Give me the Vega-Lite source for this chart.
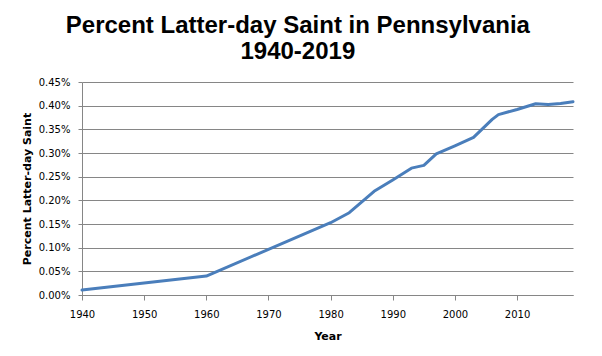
{
  "$schema": "https://vega.github.io/schema/vega-lite/v6.json",
  "width": 491,
  "height": 213,
  "autosize": {"type": "none"},
  "padding": {"left": 82, "top": 82, "right": 29, "bottom": 61},
  "background": "white",
  "title": {
    "text": ["Percent Latter-day Saint in Pennsylvania", "1940-2019"],
    "font": "Liberation Sans",
    "fontSize": 24,
    "fontWeight": "bold",
    "color": "#000000",
    "lineHeight": 26,
    "anchor": "middle",
    "frame": "bounds",
    "offset": 13
  },
  "data": {
    "values": [
      {"year": 1940, "percent": 0.0105},
      {"year": 1960, "percent": 0.040},
      {"year": 1980, "percent": 0.1527},
      {"year": 1983, "percent": 0.1738},
      {"year": 1987, "percent": 0.219},
      {"year": 1990, "percent": 0.243},
      {"year": 1993, "percent": 0.268},
      {"year": 1995, "percent": 0.2738},
      {"year": 1997, "percent": 0.298},
      {"year": 2000, "percent": 0.315},
      {"year": 2003, "percent": 0.333},
      {"year": 2006, "percent": 0.371},
      {"year": 2007, "percent": 0.381},
      {"year": 2010, "percent": 0.392},
      {"year": 2013, "percent": 0.404},
      {"year": 2015, "percent": 0.4027},
      {"year": 2017, "percent": 0.4048},
      {"year": 2019, "percent": 0.4084}
    ]
  },
  "mark": {"type": "line", "color": "#4A7EBB", "strokeWidth": 3, "strokeJoin": "round", "strokeCap": "round"},
  "encoding": {
    "x": {
      "field": "year",
      "type": "quantitative",
      "scale": {"domain": [1940, 2019], "nice": false, "zero": false},
      "axis": {
        "title": "Year",
        "values": [1940, 1950, 1960, 1970, 1980, 1990, 2000, 2010],
        "format": "d",
        "grid": false,
        "domainColor": "#868686",
        "tickColor": "#868686",
        "tickSize": 5,
        "labelPadding": 9,
        "titlePadding": 11,
        "labelFlush": false
      }
    },
    "y": {
      "field": "percent",
      "type": "quantitative",
      "scale": {"domain": [0, 0.45], "nice": false},
      "axis": {
        "title": "Percent Latter-day Saint",
        "values": [0, 0.05, 0.1, 0.15, 0.2, 0.25, 0.3, 0.35, 0.4, 0.45],
        "labelExpr": "format(datum.value, '.2f') + '%'",
        "grid": true,
        "gridColor": "#868686",
        "gridOpacity": 1,
        "domainColor": "#868686",
        "tickColor": "#868686",
        "tickSize": 4,
        "labelPadding": 8,
        "titlePadding": 6
      }
    }
  },
  "config": {
    "view": {"stroke": null},
    "axis": {
      "labelFont": "DejaVu Sans",
      "labelFontSize": 10,
      "labelColor": "#000000",
      "titleFont": "DejaVu Sans",
      "titleFontSize": 11,
      "titleFontWeight": "bold",
      "titleColor": "#000000",
      "domainWidth": 1,
      "tickWidth": 1,
      "gridWidth": 1
    }
  }
}
